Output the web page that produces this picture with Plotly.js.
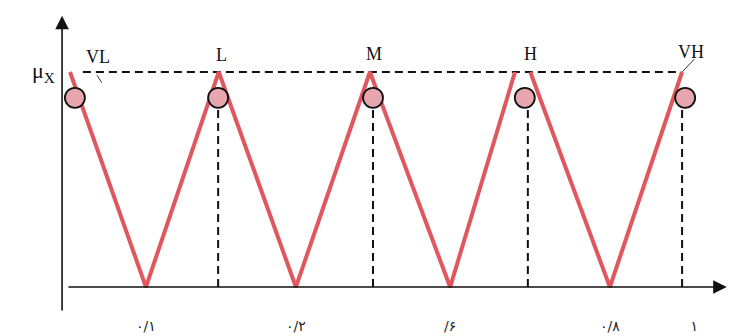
<!DOCTYPE html>
<html>
<head>
<meta charset="utf-8">
<script src="https://cdn.plot.ly/plotly-3.0.1.min.js"></script>
<style>
  html, body { margin: 0; padding: 0; background: #ffffff; }
  #chart { width: 731px; height: 336px; }
</style>
</head>
<body>
<div id="chart"></div>
<script>
// membership function zigzag (x from 0 to 1, y = membership degree)
const leftLineX = [0, 0.124, 0.243, 0.369, 0.490, 0.621, 0.727];
const leftLineY = [1, 0, 1, 0, 1, 0, 1];
const rightLineX = [0.752, 0.882, 1];
const rightLineY = [1, 0, 1];

// circled points and their dashed guides
const circleX = [0.008, 0.242, 0.495, 0.743, 1.005];
const circleY = [0.88, 0.88, 0.88, 0.88, 0.88];
const guideX = [0.242, 0.495, 0.748, 1.0];
const guideTop = 0.84;

// set labels above the peaks
const setNames = ['VL', 'L', 'M', 'H', 'VH'];
const setX = [0.046, 0.247, 0.497, 0.752, 1.015];
const setY = [1.07, 1.08, 1.085, 1.085, 1.095];

// x tick labels
const tickVals = [0.124, 0.369, 0.621, 0.882, 1.02];
const tickText = ['۰/۱', '۰/۲', '/۶', '۰/۸', '۱'];

const red = '#e0585d';

const guideXs = [], guideYs = [];
guideX.forEach(g => { guideXs.push(g, g, null); guideYs.push(0, guideTop, null); });

const data = [
    { x: [0.021, 0.99], y: [1, 1], mode: 'lines',
      line: { color: '#111', width: 2, dash: '8px,5px' }, hoverinfo: 'skip' },
    { x: guideXs, y: guideYs, mode: 'lines',
      line: { color: '#111', width: 2, dash: '8px,5px' }, hoverinfo: 'skip' },
    { x: leftLineX, y: leftLineY, mode: 'lines',
      line: { color: red, width: 4 } },
    { x: rightLineX, y: rightLineY, mode: 'lines',
      line: { color: red, width: 4 } },
    { x: circleX, y: circleY, mode: 'markers',
      marker: { size: 20, color: '#e8a6ae', line: { color: '#111', width: 1.8 } } }
];

const annotations = setNames.map((t, i) => ({
    x: setX[i], y: setY[i], xref: 'x', yref: 'y', text: t, showarrow: false,
    font: { family: 'Liberation Serif, DejaVu Serif, serif', size: 18, color: '#111' }
}));
annotations.push({
    x: -0.048, y: 1.0, xref: 'paper', yref: 'y', text: 'μ<sub>X</sub>', showarrow: false,
    font: { family: 'Liberation Serif, DejaVu Serif, serif', size: 22, color: '#111' }
});
// axis arrows
annotations.push({
    x: -0.013, y: 1.262, ax: -0.013, ay: -0.116, xref: 'x', yref: 'y', axref: 'x', ayref: 'y',
    text: '', showarrow: true, arrowhead: 2, arrowsize: 1.7, arrowwidth: 1.6, arrowcolor: '#111'
});
annotations.push({
    x: 1.073, y: 0, ax: -0.005, ay: 0, xref: 'x', yref: 'y', axref: 'x', ayref: 'y',
    text: '', showarrow: true, arrowhead: 2, arrowsize: 1.7, arrowwidth: 1.6, arrowcolor: '#111'
});

const layout = {
    width: 731, height: 336,
    margin: { l: 62, r: 3, t: 15, b: 24 },
    paper_bgcolor: '#ffffff', plot_bgcolor: '#ffffff',
    showlegend: false,
    xaxis: {
        range: [-0.0131, 1.075], showgrid: false, zeroline: false, showline: false,
        tickvals: tickVals, ticktext: tickText, ticks: 'outside', ticklen: 1,
        tickcolor: 'rgba(0,0,0,0)',
        tickfont: { family: 'DejaVu Sans, sans-serif', size: 14, color: '#222' }
    },
    yaxis: {
        range: [-0.116, 1.265], showgrid: false, zeroline: false, showline: false,
        showticklabels: false
    },
    shapes: [
        { type: 'line', xref: 'x', yref: 'y', x0: 1.0, y0: 1.0, x1: 1.02, y1: 1.06,
          line: { color: '#333', width: 1 } },
        { type: 'line', xref: 'x', yref: 'y', x0: 0.044, y0: 0.985, x1: 0.052, y1: 0.95,
          line: { color: '#333', width: 1 } }
    ],
    annotations: annotations
};

Plotly.newPlot('chart', data, layout, { displayModeBar: false, staticPlot: true });
</script>
</body>
</html>
